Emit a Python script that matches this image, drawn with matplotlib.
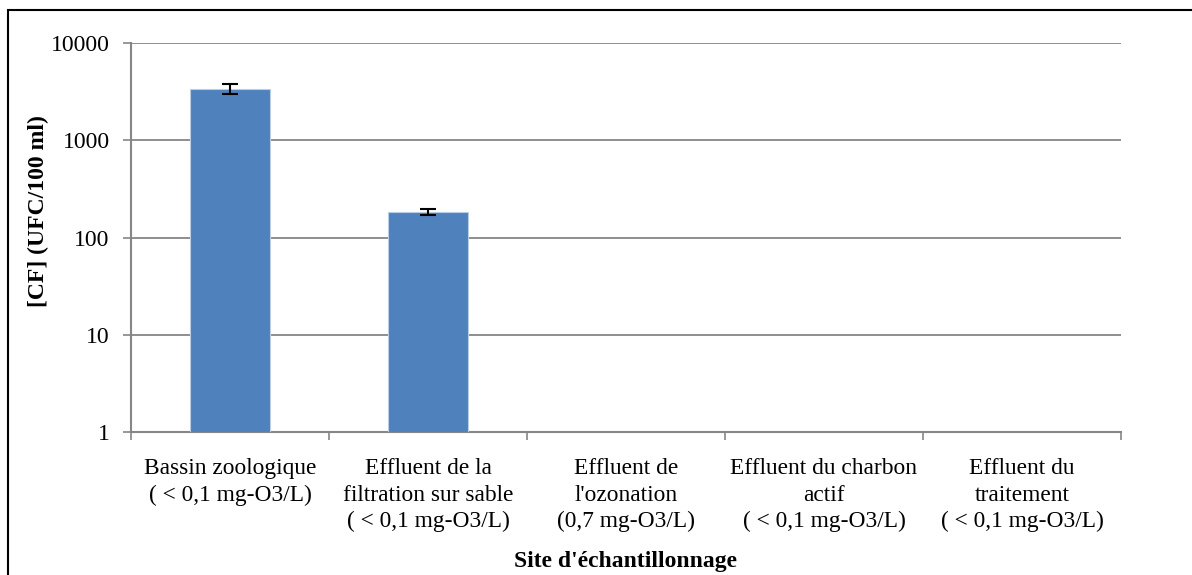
import matplotlib
matplotlib.use("Agg")
import matplotlib.pyplot as plt
import numpy as np
from matplotlib.patches import Rectangle

categories = [
    "Bassin zoologique\n( < 0,1 mg-O3/L)",
    "Effluent de la\nfiltration sur sable\n( < 0,1 mg-O3/L)",
    "Effluent de\nl'ozonation\n(0,7 mg-O3/L)",
    "Effluent du charbon\nactif\n( < 0,1 mg-O3/L)",
    "Effluent du\ntraitement\n( < 0,1 mg-O3/L)",
]
values = [3400, 184, np.nan, np.nan, np.nan]
errors = [400, 13, np.nan, np.nan, np.nan]
yticks = [1, 10, 100, 1000, 10000]
ytick_labels = ["1", "10", "100", "1000", "10000"]

plt.rcParams['font.family'] = ['Liberation Serif', 'DejaVu Serif']

fig = plt.figure(figsize=(11.92, 5.75), dpi=100)
ax = fig.add_axes([131/1192, 1-432/575, (1121-131)/1192, (432-43)/575])

x = np.arange(len(categories))
ax.bar(x, values, width=0.40, color="#4F81BD", edgecolor="#B9CDE5", linewidth=0.8, zorder=3)
ax.errorbar(x, values, yerr=errors, fmt='none', ecolor='black', elinewidth=1.5,
            capsize=6, capthick=1.5, zorder=4)

ax.set_yscale('log')
ax.set_ylim(1, 10000)
ax.set_xlim(-0.5, len(categories)-0.5)
ax.set_yticks(yticks)
ax.set_yticklabels(ytick_labels, fontsize=17)
ax.yaxis.set_minor_locator(matplotlib.ticker.NullLocator())

ax.set_xticks(np.arange(-0.5, len(categories)), minor=False)
ax.set_xticklabels([])
ax.set_xticks(x, minor=True)
ax.set_xticklabels(categories, minor=True, fontsize=16.8, linespacing=1.32)
ax.tick_params(axis='x', which='minor', length=0, pad=19)
ax.tick_params(axis='x', which='major', length=6, width=1.2, color='#868686', direction='out')
ax.tick_params(axis='y', length=6, width=1.2, color='#868686', direction='out', pad=9.4)

ax.grid(axis='y', color='#868686', linewidth=1.3, zorder=0)
for side in ['top', 'right']:
    ax.spines[side].set_visible(False)
for side in ['left', 'bottom']:
    ax.spines[side].set_color('#868686')
    ax.spines[side].set_linewidth(1.5)

fig.text(38/1192, 1-211/575, "[CF] (UFC/100 ml)", fontsize=17, fontweight='bold',
         rotation=90, ha='center', va='center')
fig.text(626/1192, 1-562/575, "Site d'échantillonnage", fontsize=17, fontweight='bold',
         ha='center', va='center')

fig.patches.append(Rectangle((8/1192, -0.01), 1.01, 1-10/575+0.01, transform=fig.transFigure,
                             fill=False, edgecolor='black', linewidth=1.5))

fig.savefig("out.png", dpi=100)
